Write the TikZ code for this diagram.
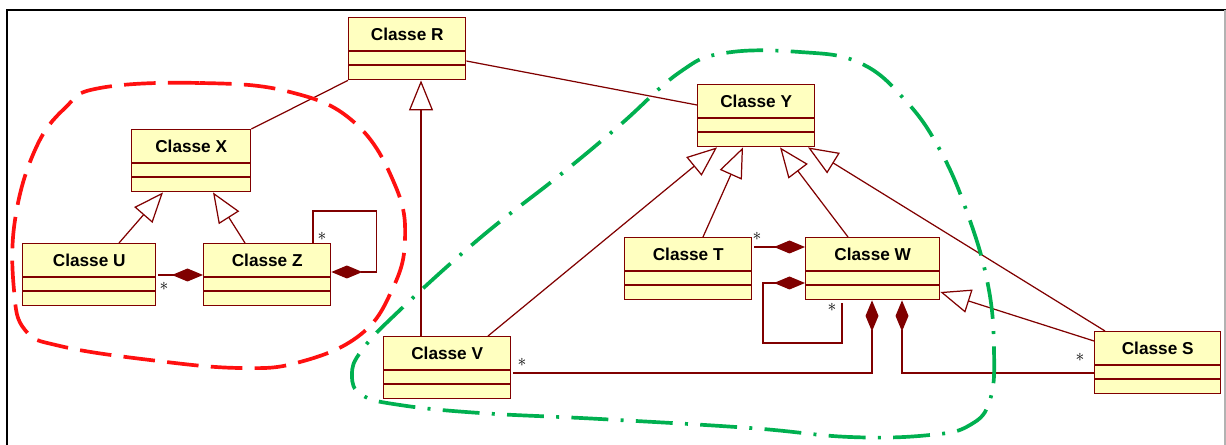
\documentclass[tikz,border=0pt]{standalone}
\usepackage{fontspec}
\setmainfont{Liberation Sans}
\usetikzlibrary{arrows.meta,calc}
\definecolor{umlMaroon}{HTML}{800000}
\definecolor{paleYellow}{HTML}{FFFFC0}
\definecolor{loopRed}{HTML}{FF1010}
\definecolor{loopGreen}{HTML}{00B050}

\begin{document}
\begin{tikzpicture}[x=0.02cm, y=-0.02cm,
  cls/.style={rectangle,draw=umlMaroon,fill=paleYellow,line width=0.8pt,anchor=north west,
    inner xsep=0pt,inner ysep=0pt,text height=0.46cm,text depth=0.78cm,
    font=\fontsize{9.8}{11}\selectfont\bfseries},
  link/.style={draw=umlMaroon,line width=0.7pt},
  gen/.style={link,-{Triangle[fill=white,length=6mm,width=4.8mm]}},
  comp/.style={link,-{Diamond[fill=umlMaroon,length=6.2mm,width=2.6mm]}},
  mult/.style={inner sep=0pt,font=\normalsize}
]
  \useasboundingbox (0,0) rectangle (1226,445);
  \draw[black,line width=1.1pt] (7,445) -- (7,10) -- (1226,10);
  \draw[gray!60,line width=0.6pt] (1225,10) -- (1225,445);

  \node[cls,minimum width=2.34cm] (R) at (348,17) {Classe R};
  \node[cls,minimum width=2.38cm] (X) at (131,129) {Classe X};
  \node[cls,minimum width=2.66cm] (U) at (22,243) {Classe U};
  \node[cls,minimum width=2.54cm] (Z) at (203,243) {Classe Z};
  \node[cls,minimum width=2.54cm] (V) at (383,336) {Classe V};
  \node[cls,minimum width=2.34cm] (Y) at (697,84) {Classe Y};
  \node[cls,minimum width=2.54cm] (T) at (624,237) {Classe T};
  \node[cls,minimum width=2.68cm] (W) at (805,237) {Classe W};
  \node[cls,minimum width=2.52cm] (S) at (1094,331) {Classe S};
  \foreach \c in {R,X,U,Z,V,Y,T,W,S}
    \draw[umlMaroon,line width=0.8pt] ($(\c.north west)+(0,34)$) -- ($(\c.north east)+(0,34)$)
      ($(\c.north west)+(0,48)$) -- ($(\c.north east)+(0,48)$);

  % associations
  \draw[link] (R.south west) -- (X.north east);
  \draw[link] ($(R.north east)+(0,44)$) -- ($(Y.north west)+(0,21)$);

  % generalisations
  \draw[gen] ($(V.north west)+(38,0)$) coordinate (vTop) -- (vTop |- R.south);
  \draw[gen] ($(U.north west)+(97,0)$) -- ($(X.south west)+(32,0)$);
  \draw[gen] ($(Z.north west)+(42,0)$) -- ($(X.south west)+(82,0)$);
  \draw[gen] ($(V.north west)+(105,0)$) -- ($(Y.south west)+(20,0)$);
  \draw[gen] ($(T.north west)+(79,0)$) -- ($(Y.south west)+(46,0)$);
  \draw[gen] ($(W.north west)+(43,0)$) -- ($(Y.south west)+(83,0)$);
  \draw[gen] ($(S.north west)+(11,0)$) -- ($(Y.south west)+(111,0)$);
  \draw[gen] ($(S.north west)+(0,10)$) -- ($(W.north east)+(0,55)$);

  % compositions
  \draw[comp] ($(U.north east)+(2,32)$) -- ($(Z.north west)+(0,32)$);
  \draw[comp] ($(Z.north west)+(110,0)$) |- ($(Z.north east)+(45,-32)$) |- ($(Z.north east)+(0,29)$);
  \draw[comp] ($(T.north east)+(2,10)$) -- ($(W.north west)+(0,10)$);
  \draw[comp] ($(W.south west)+(37,3)$) |- ($(W.north west)+(-42,106)$) |- ($(W.north west)+(0,46)$);
  \draw[comp] ($(V.north east)+(2,37)$) -| ($(W.south west)+(67,0)$);
  \draw[comp] ($(S.north west)+(0,42)$) -| ($(W.south west)+(97,0)$);

  % multiplicities
  \node[mult] (mUZ) at (164,286) {$\ast$};
  \node[mult] (mZZ) at (322,236) {$\ast$};
  \node[mult] (mTW) at (757,236) {$\ast$};
  \node[mult] (mWW) at (832,307) {$\ast$};
  \node[mult] (mVW) at (522,362) {$\ast$};
  \node[mult] (mSW) at (1080,357) {$\ast$};

  % groupings
  \draw[loopRed,line width=2.1pt,dash pattern=on 18pt off 7pt]
    plot[smooth cycle,tension=0.7] coordinates {(100,88) (200,83) (290,92) (355,123) (395,185)
      (405,240) (392,290) (360,335) (300,362) (240,368) (150,360) (60,346) (25,330)
      (14,290) (15,220) (35,150) (65,108)};
  \draw[loopGreen,line width=2.1pt,dash pattern=on 21pt off 7pt on 1.7pt off 7pt]
    plot[smooth cycle,tension=0.7] coordinates {(725,53) (800,52) (860,63) (905,100) (940,150)
      (968,215) (988,285) (994,350) (990,400) (970,425) (930,435) (850,437) (750,428)
      (600,419) (480,413) (400,405) (362,395) (352,375) (362,350) (400,310) (480,238)
      (560,175) (620,125) (680,72)};
\end{tikzpicture}
\end{document}
